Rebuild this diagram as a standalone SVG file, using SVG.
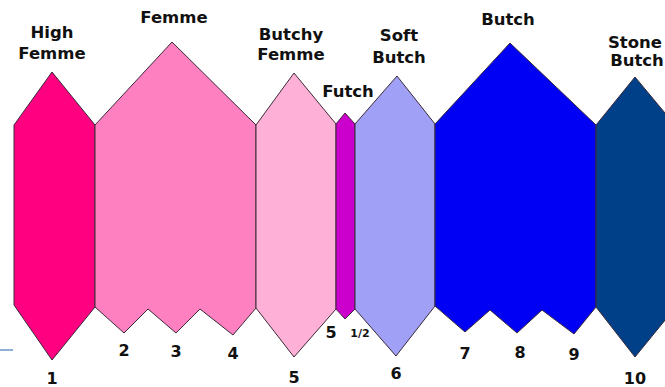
<svg xmlns="http://www.w3.org/2000/svg" width="665" height="387" viewBox="0 0 665 387">
<style>
.s{stroke:#3a2a3a;stroke-width:1;stroke-linejoin:miter}
.t{font-family:"DejaVu Sans",Verdana,sans-serif;font-weight:bold;font-size:16.5px;fill:#111;text-anchor:middle}
.n{font-family:"DejaVu Sans",Verdana,sans-serif;font-weight:bold;font-size:16px;fill:#111;text-anchor:middle}
</style>
<rect width="665" height="387" fill="#fff"/>
<g id="connectors">
<line x1="0" y1="350" x2="13" y2="350" stroke="#8fb0d4" stroke-width="2"/>
</g>
<g id="high-femme">
<polygon class="s" fill="#ff0080" points="14,125 52,72 95,125 95,307 52,360 14,305"/>
<text class="t" x="52" y="38">High</text>
<text class="t" x="52" y="59">Femme</text>
<text class="n" x="52" y="384">1</text>
</g>
<g id="femme">
<polygon class="s" fill="#ff80c0" points="95,125 172,42 256,125 256,308 233,335 200,309 176,333 148,309 124,333 95,307"/>
<text class="t" x="174" y="23">Femme</text>
<text class="n" x="124" y="356">2</text>
<text class="n" x="176" y="357">3</text>
<text class="n" x="233" y="359">4</text>
</g>
<g id="butchy-femme">
<polygon class="s" fill="#ffb0d6" points="256,125 294,73 336,124 336,309 294,357 256,308"/>
<text class="t" x="291" y="40">Butchy</text>
<text class="t" x="291" y="60">Femme</text>
<text class="n" x="294" y="383">5</text>
</g>
<g id="futch">
<polygon class="s" fill="#cc00cc" points="336,124 345,113 355,124 355,309 345,319 336,309"/>
<text class="t" x="348" y="97">Futch</text>
<text class="n" x="331" y="338">5</text>
<text class="n" x="360" y="337" style="font-size:11px">1/2</text>
</g>
<g id="soft-butch">
<polygon class="s" fill="#a0a0f6" points="355,124 397,76 435,124 435,306 396,356 355,309"/>
<text class="t" x="399" y="41">Soft</text>
<text class="t" x="399" y="63">Butch</text>
<text class="n" x="396" y="379">6</text>
</g>
<g id="butch">
<polygon class="s" fill="#0000f4" points="435,124 510,43 596,125 596,307 574,334 542,310 517,333 490,310 465,332 435,306"/>
<text class="t" x="508" y="25">Butch</text>
<text class="n" x="465" y="359">7</text>
<text class="n" x="520" y="358">8</text>
<text class="n" x="574" y="360">9</text>
</g>
<g id="stone-butch">
<polygon class="s" fill="#004088" points="596,125 635,77 675,125 675,308 635,357 596,307"/>
<text class="t" x="635" y="48">Stone</text>
<text class="t" x="637" y="66">Butch</text>
<text class="n" x="635" y="384">10</text>
</g>
</svg>
